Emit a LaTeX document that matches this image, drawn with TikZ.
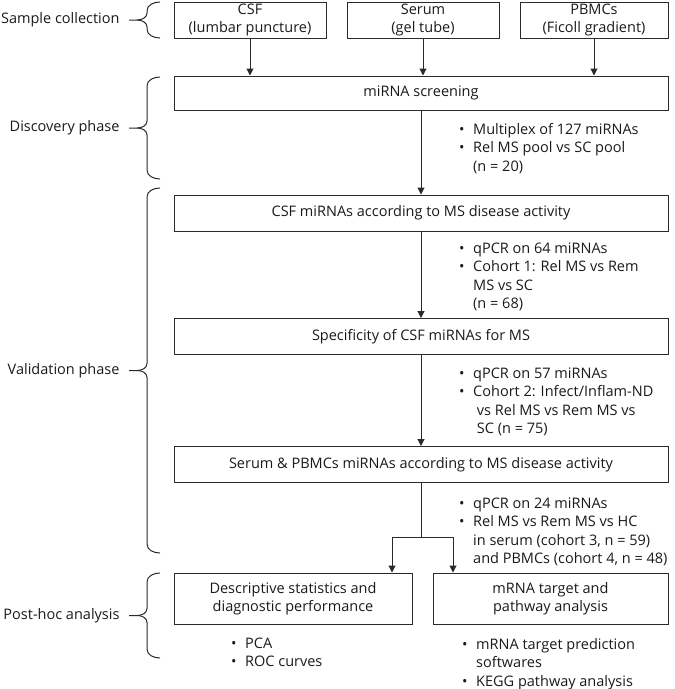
\documentclass[tikz,border=0pt]{standalone}
\usepackage{fontspec}
\setmainfont{Open Sans}
\usetikzlibrary{arrows.meta}

\definecolor{ink}{HTML}{1A1A1A}
\definecolor{rule}{HTML}{2A2A2A}

% bullet and indent for the note lists
\newcommand{\itm}{\strut\makebox[14pt][l]{•}}
\newcommand{\ind}{\strut\hspace*{14pt}}

% curly brace on the left with its phase label
\newcommand{\phasebrace}[4]{%
  \draw[phase] (160,#1) to[out=180,in=90] (147,#1+9) -- (147,{(#1+#2)/2-7})
    to[out=-90,in=0] (137,{(#1+#2)/2}) -- (129,{(#1+#2)/2})
    node[anchor=east,inner sep=0pt,xshift=-9pt] (#3) {#4};
  \draw[phase] (160,#2) to[out=180,in=-90] (147,#2-9) -- (147,{(#1+#2)/2+7})
    to[out=90,in=0] (137,{(#1+#2)/2});
}

\begin{document}
\begin{tikzpicture}[x=1pt,y=-1pt,
  every node/.append style={font=\fontsize{14.5}{18.5}\selectfont,text=ink},
  box/.style={draw=rule,line width=1pt,align=center,inner sep=0pt,minimum height=36pt},
  note/.style={anchor=north west,align=left,inner sep=0pt},
  link/.style={draw=rule,line width=1pt,-{Triangle[length=7pt,width=7pt]}},
  phase/.style={draw=rule,line width=1pt}]
\useasboundingbox (0,0) rectangle (675,689);

% samples
\node[box,minimum width=152pt] (csf) at (250,20) {CSF\\(lumbar puncture)};
\node[box,minimum width=152pt] (serum) at (423,20) {Serum\\(gel tube)};
\node[box,minimum width=148pt] (pbmc) at (594,20) {PBMCs\\(Ficoll gradient)};

% main steps
\node[box,minimum width=494pt,minimum height=34pt] (screen) at (421,93) {miRNA screening};
\node[box,minimum width=494pt] (csfact) at (421,213) {CSF miRNAs according to MS disease activity};
\node[box,minimum width=494pt] (spec) at (421,336.5) {Specificity of CSF miRNAs for MS};
\node[box,minimum width=494pt] (serpb) at (421,464.5) {Serum \& PBMCs miRNAs according to MS disease activity};
\node[box,minimum width=238pt,minimum height=51pt] (desc) at (293,598.5) {Descriptive statistics and\\diagnostic performance};
\node[box,minimum width=235pt,minimum height=51pt] (mrna) at (550.5,598.5) {mRNA target and\\pathway analysis};

% notes
\node[note] (ndisc) at (459,121) {\itm Multiplex of 127 miRNAs\\\itm Rel MS pool vs SC pool\\\ind (n = 20)};
\node[note] (ncsf) at (459,240) {\itm qPCR on 64 miRNAs\\\itm Cohort 1: Rel MS vs Rem\\\ind MS vs SC\\\ind (n = 68)};
\node[note] (nspec) at (459,365) {\itm qPCR on 57 miRNAs\\\itm Cohort 2: Infect/Inflam-ND\\\ind\ vs Rel MS vs Rem MS vs\\\ind\ SC (n = 75)};
\node[note] (nserpb) at (459,495) {\itm qPCR on 24 miRNAs\\\itm Rel MS vs Rem MS vs HC\\\ind in serum (cohort 3, n = 59)\\\ind and PBMCs (cohort 4, n = 48)};
\node[note] (ndesc) at (231,635) {\itm PCA\\\itm ROC curves};
\node[note] (nmrna) at (462,636) {\itm mRNA target prediction\\\ind softwares\\\itm KEGG pathway analysis};

% arrows
\draw[link] (csf.south) -- (csf.south |- screen.north);
\draw[link] (serum.south) -- (serum.south |- screen.north);
\draw[link] (pbmc.south) -- (pbmc.south |- screen.north);
\draw[link] (screen.south) -- (csfact.north);
\draw[link] (csfact.south) -- (spec.north);
\draw[link] (spec.south) -- (serpb.north);
\coordinate (split) at (421,537);
\draw[phase] (serpb.south) -- (split);
\draw[link] (split) -| ([xshift=99pt]desc.north);
\draw[link] (split) -| ([xshift=-97.5pt]mrna.north);

% phases
\phasebrace{2}{38}{lblsample}{Sample collection}
\phasebrace{77}{179}{lbldisc}{Discovery phase}
\phasebrace{188}{553}{lblvalid}{Validation phase}
\phasebrace{573}{658}{lblpost}{Post-hoc analysis}
\end{tikzpicture}
\end{document}
